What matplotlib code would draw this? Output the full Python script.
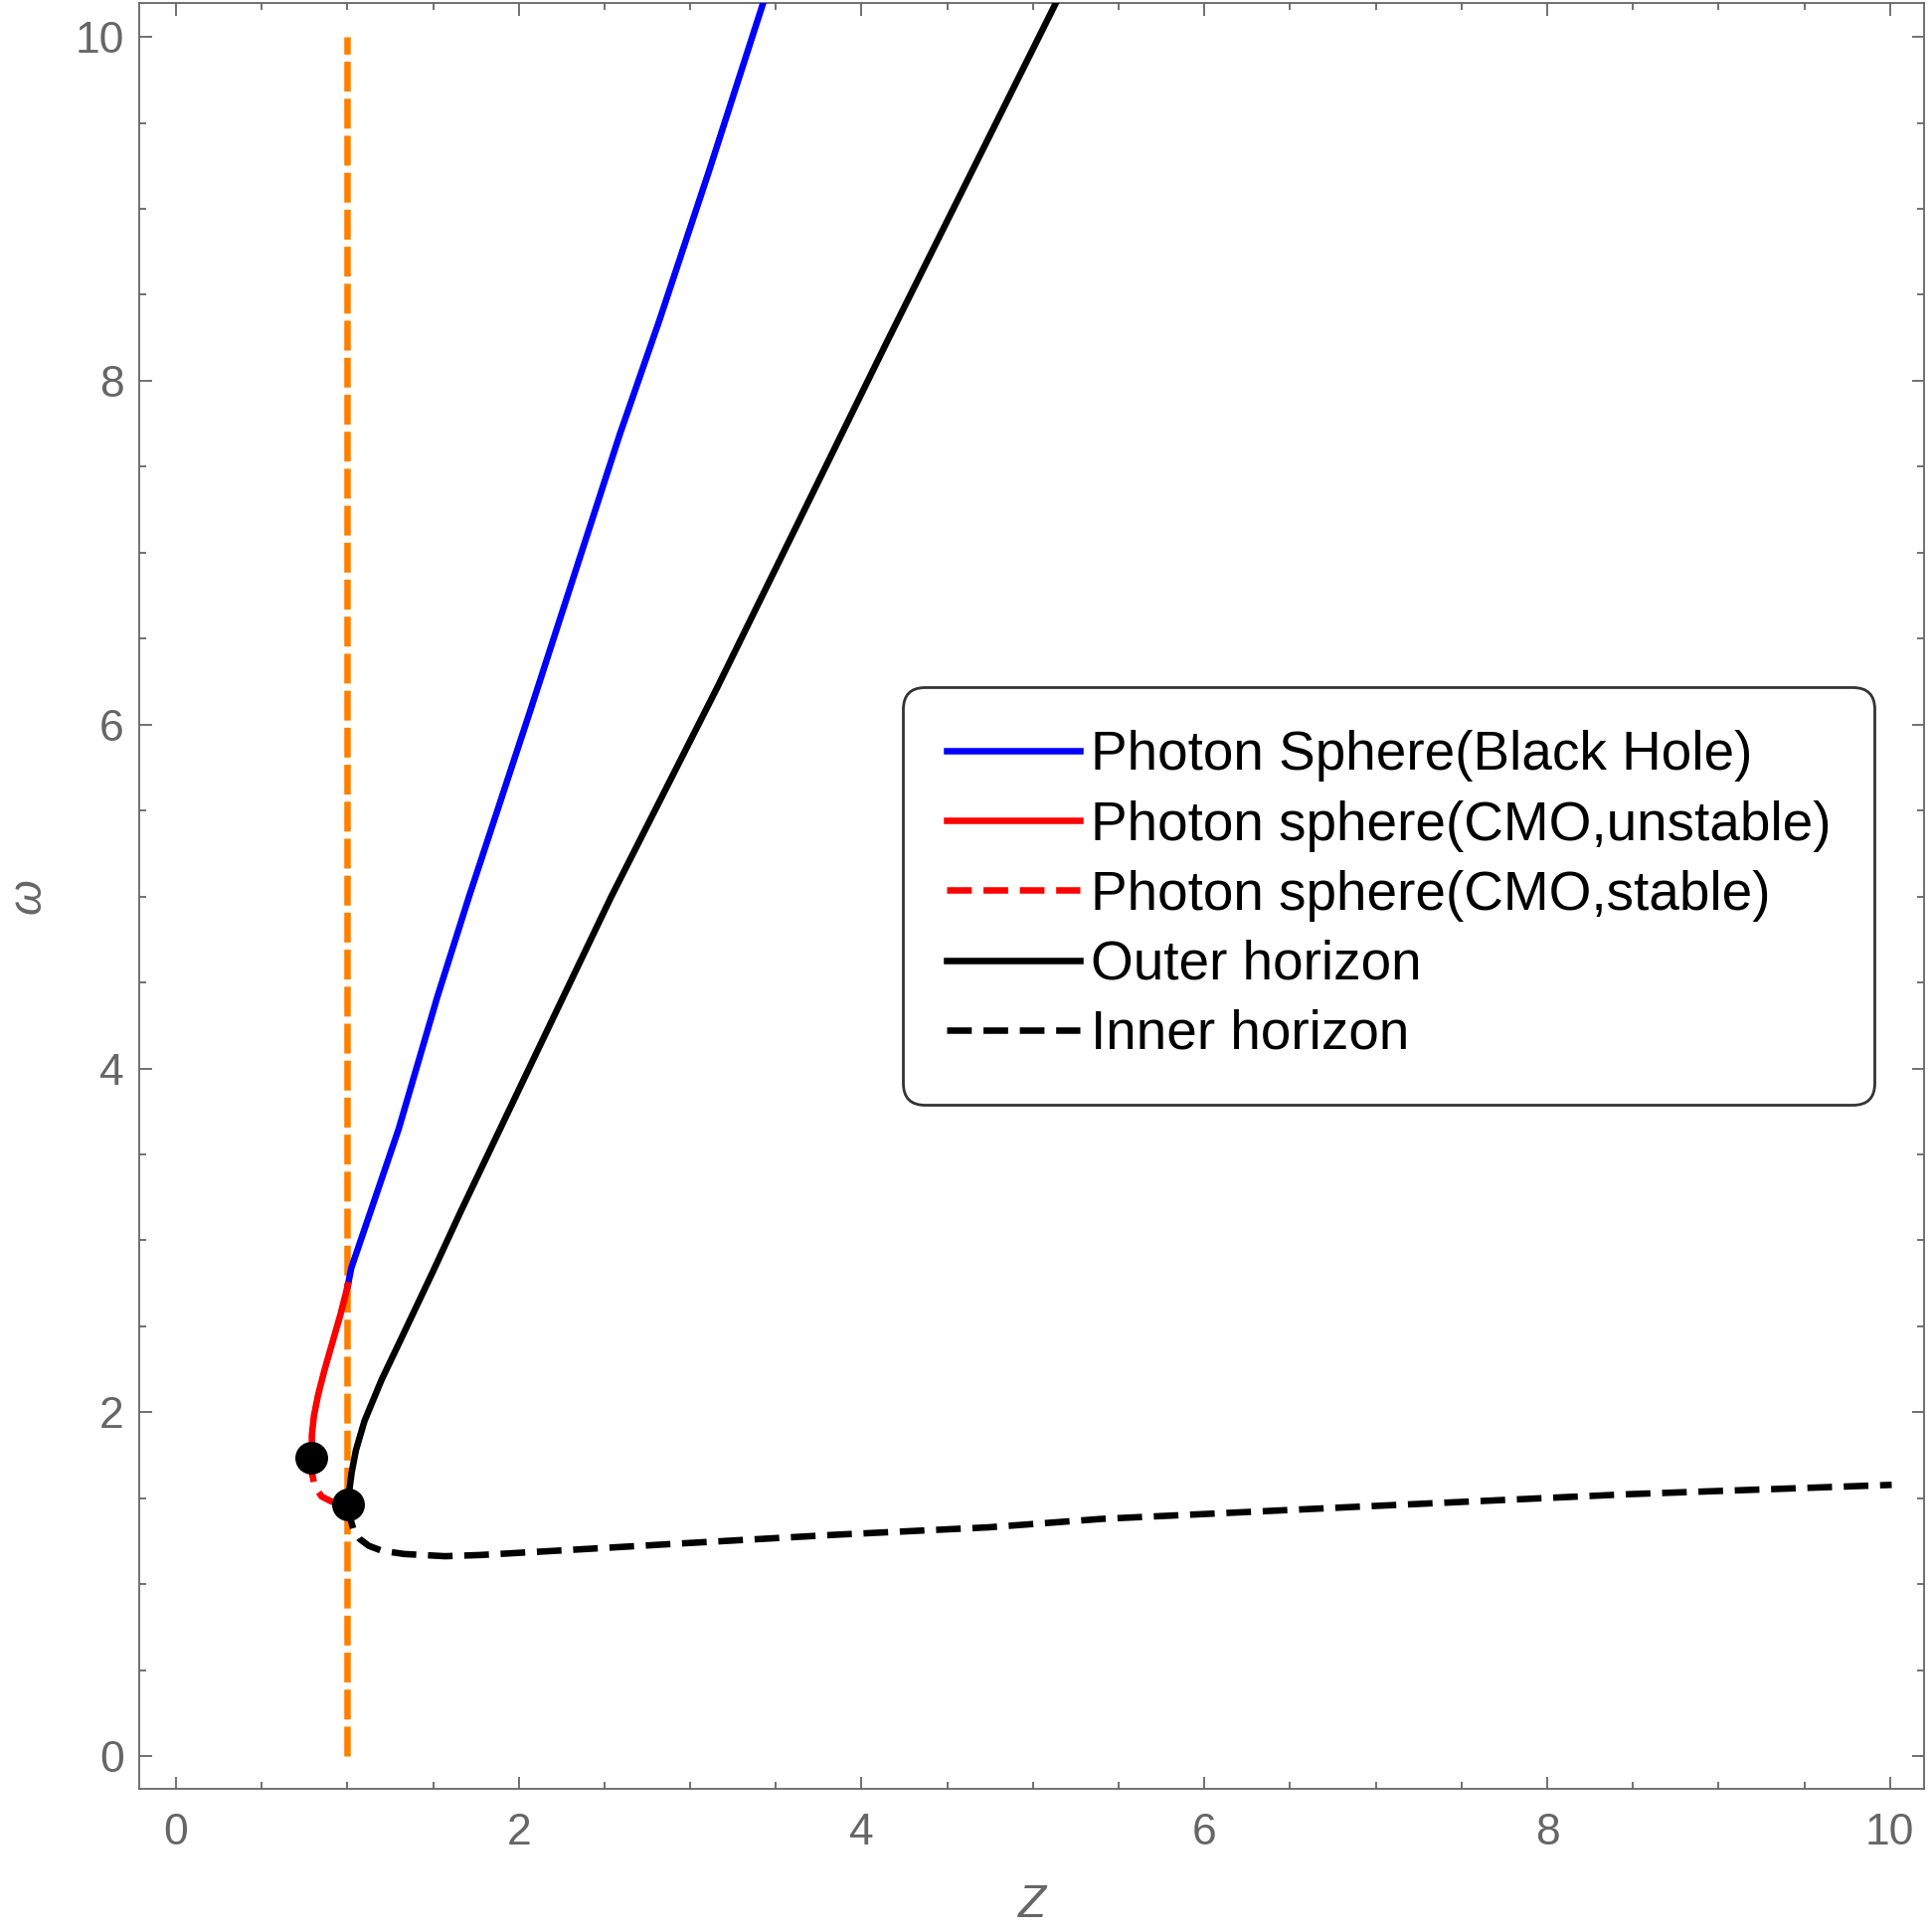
import matplotlib
matplotlib.use("Agg")
import matplotlib.pyplot as plt
from matplotlib.ticker import MultipleLocator

# Data

# photon sphere, black hole branch
bh_z = [1.003, 1.023, 1.16, 1.30, 1.526, 1.71, 2.07, 2.33, 2.59, 2.82, 3.11, 3.43]
bh_w = [2.74, 2.84, 3.24, 3.65, 4.42, 5.0, 6.09, 6.89, 7.69, 8.35, 9.22, 10.21]

# photon sphere, CMO unstable (from junction down to turning point)
cmo_u_z = [1.003, 0.96, 0.908, 0.865, 0.829, 0.805, 0.793, 0.792]
cmo_u_w = [2.74, 2.57, 2.39, 2.24, 2.10, 1.98, 1.87, 1.738]

# photon sphere, CMO stable
cmo_s_z = [0.792, 0.795, 0.81, 0.85, 0.91, 0.96, 1.006]
cmo_s_w = [1.738, 1.64, 1.57, 1.51, 1.48, 1.47, 1.466]

# outer horizon
outer_z = [1.006, 1.012, 1.025, 1.05, 1.10, 1.20, 1.31, 1.50, 1.66, 2.05, 2.54, 3.16, 4.145, 5.14]
outer_w = [1.466, 1.55, 1.65, 1.78, 1.95, 2.19, 2.42, 2.82, 3.165, 3.98, 5.0, 6.22, 8.22, 10.21]

# inner horizon
inner_z = [1.006, 1.015, 1.035, 1.07, 1.124, 1.20, 1.33, 1.57, 1.776, 2.22, 2.96, 3.85,
           4.74, 5.4, 6.92, 8.48, 10.01]
inner_w = [1.466, 1.39, 1.32, 1.265, 1.224, 1.195, 1.176, 1.163, 1.170, 1.195, 1.238, 1.288,
           1.331, 1.38, 1.452, 1.524, 1.578]

# vertical reference line at Z = 1
vline_z = 1.0
vline_w = [0, 10]

# special points
pts_z = [0.792, 1.006]
pts_w = [1.738, 1.466]

labels = ["Photon Sphere(Black Hole)", "Photon sphere(CMO,unstable)",
          "Photon sphere(CMO,stable)", "Outer horizon", "Inner horizon"]

plt.rcParams['font.family'] = ['Liberation Sans', 'DejaVu Sans']
gray = '#666666'

fig = plt.figure(figsize=(19.43, 19.43), dpi=100)
ax = fig.add_axes([0.072, 0.0741, 0.924, 0.9246])

lw = 4.7
dash = (0, (3.8, 1.8))
odash = (0, (4.6, 1.1))

ax.plot([vline_z, vline_z], vline_w, color='#FF8000', lw=lw, ls=odash, zorder=2)
l1, = ax.plot(bh_z, bh_w, color='#0000FF', lw=lw, zorder=3)
l2, = ax.plot(cmo_u_z, cmo_u_w, color='#FF0000', lw=lw, zorder=3)
l3, = ax.plot(cmo_s_z, cmo_s_w, color='#FF0000', lw=lw, ls=dash, zorder=3)
l4, = ax.plot(outer_z, outer_w, color='black', lw=lw, zorder=3)
l5, = ax.plot(inner_z, inner_w, color='black', lw=lw, ls=dash, zorder=3)
ax.plot(pts_z, pts_w, 'o', color='black', ms=22.7, zorder=4)

ax.set_xlim(-0.215, 10.2)
ax.set_ylim(-0.19, 10.2)

ax.xaxis.set_major_locator(MultipleLocator(2))
ax.xaxis.set_minor_locator(MultipleLocator(0.5))
ax.yaxis.set_major_locator(MultipleLocator(2))
ax.yaxis.set_minor_locator(MultipleLocator(0.5))

for s in ax.spines.values():
    s.set_color(gray)
    s.set_linewidth(1.3)
ax.tick_params(which='both', direction='in', top=True, right=True,
               color=gray, labelcolor=gray, width=1.3)
ax.tick_params(which='major', length=9, labelsize=32)
ax.tick_params(which='minor', length=5.3)
ax.tick_params(axis='x', which='major', pad=17)
ax.tick_params(axis='y', which='major', pad=11)

ax.set_xlabel('Z', fontsize=33, color=gray, style='italic', labelpad=22)
ax.set_ylabel('ω', fontsize=33, color=gray, style='italic', labelpad=18)

leg = ax.legend([l1, l2, l3, l4, l5], labels, loc='upper right',
                bbox_to_anchor=(0.972, 0.617), fontsize=39.5, frameon=True,
                fancybox=True, handlelength=2.44, handletextpad=0.2,
                borderpad=0.8, labelspacing=0.33, borderaxespad=0)
frame = leg.get_frame()
frame.set_edgecolor('black')
frame.set_linewidth(2)
frame.set_boxstyle('round', pad=0, rounding_size=0.4)

fig.savefig('out.png', dpi=100)
